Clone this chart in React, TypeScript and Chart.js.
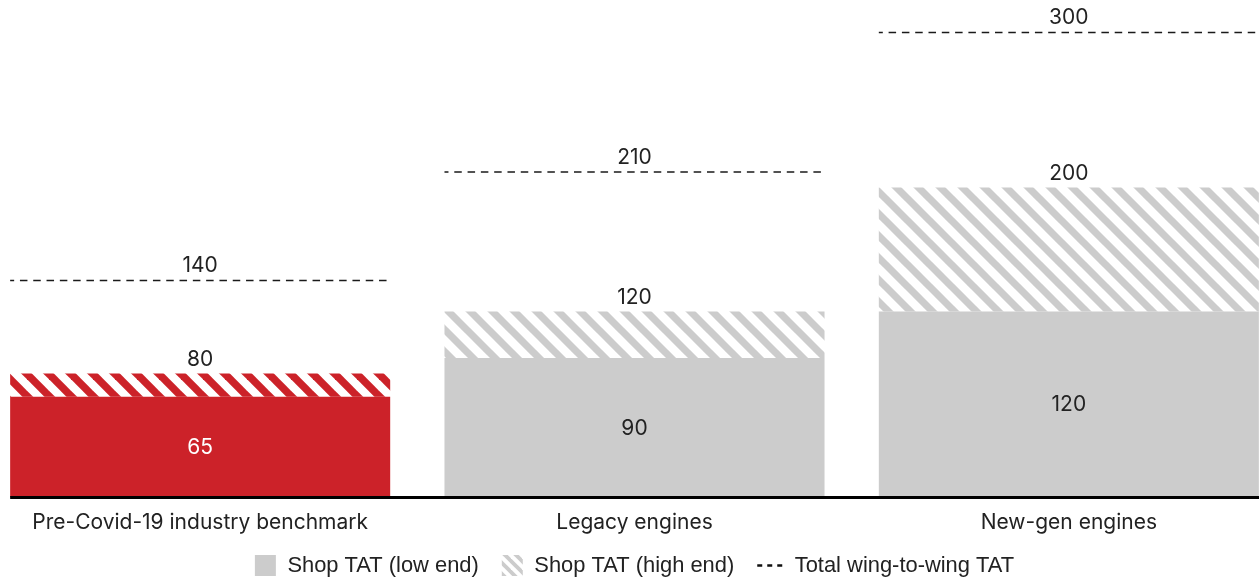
import React, { useEffect, useRef } from "react";
import { Chart, registerables } from "chart.js";

Chart.register(...registerables);

// ---- data ----
const categories = ["Pre-Covid-19 industry benchmark", "Legacy engines", "New-gen engines"];
const shopLowEnd = [65, 90, 120];
const shopHighEnd = [80, 120, 200];
const totalWingToWing = [140, 210, 300];
const legendLabels = ["Shop TAT (low end)", "Shop TAT (high end)", "Total wing-to-wing TAT"];

// ---- styles ----
const RED = "#cc2229";
const GRAY = "#cccccc";
const TEXT = "#222222";
const FONT_FAMILY = "Inter, 'Noto Sans', sans-serif";
const FONT_SIZE = 21;
const FONT = `${FONT_SIZE}px ${FONT_FAMILY}`;
const LEGEND_FONT = "21.9px 'Liberation Sans', Arial, sans-serif";

function makeHatch(color: string, period: number, width: number): CanvasPattern {
  const c = document.createElement("canvas");
  c.width = period;
  c.height = period;
  const g = c.getContext("2d")!;
  g.strokeStyle = color;
  g.lineWidth = width;
  for (const off of [-period, 0, period]) {
    g.beginPath();
    g.moveTo(off - period, -period);
    g.lineTo(off + 2 * period, 2 * period);
    g.stroke();
  }
  return g.createPattern(c, "repeat")!;
}

const overlayPlugin = {
  id: "overlay",
  afterDatasetsDraw(chart: any) {
    const { ctx, chartArea } = chart;
    const yScale = chart.scales.y;
    const meta = chart.getDatasetMeta(0);
    const zeroY = yScale.getPixelForValue(0);
    ctx.save();

    // baseline axis
    const first = meta.data[0];
    ctx.strokeStyle = "#000000";
    ctx.lineWidth = 3;
    ctx.beginPath();
    ctx.moveTo(first.x - first.width / 2, zeroY);
    ctx.lineTo(chartArea.right, zeroY);
    ctx.stroke();

    ctx.font = FONT;
    ctx.textAlign = "center";
    ctx.textBaseline = "alphabetic";

    meta.data.forEach((bar: any, i: number) => {
      const left = bar.x - bar.width / 2;
      const right = bar.x + bar.width / 2;

      // dashed total line
      const ty = yScale.getPixelForValue(totalWingToWing[i]);
      ctx.strokeStyle = "#1a1a1a";
      ctx.lineWidth = 1.6;
      ctx.setLineDash([7.5, 5.8]);
      ctx.lineDashOffset = 3.5;
      ctx.beginPath();
      ctx.moveTo(left, ty);
      ctx.lineTo(right, ty);
      ctx.stroke();
      ctx.setLineDash([]);

      ctx.fillStyle = TEXT;
      ctx.fillText(String(totalWingToWing[i]), bar.x, ty - 8.5);

      // high-end label
      const hy = yScale.getPixelForValue(shopHighEnd[i]);
      ctx.fillText(String(shopHighEnd[i]), bar.x, hy - 7.5);

      // low-end label (inside)
      const ly = yScale.getPixelForValue(shopLowEnd[i]);
      ctx.fillStyle = i === 0 ? "#ffffff" : TEXT;
      ctx.fillText(String(shopLowEnd[i]), bar.x, (ly + zeroY) / 2 + 6.8);
    });
    ctx.restore();
  },
  afterDraw(chart: any) {
    const { ctx, chartArea } = chart;
    ctx.save();
    ctx.font = LEGEND_FONT;
    ctx.textBaseline = "alphabetic";
    ctx.textAlign = "left";
    const iconW = [21, 21, 26];
    const gapIconText = 11.5;
    const gapItems = 23;
    const textW = legendLabels.map((l) => ctx.measureText(l).width);
    let total = 0;
    for (let i = 0; i < 3; i++) total += iconW[i] + gapIconText + textW[i];
    total += gapItems * 2;
    let x = (chartArea.left + chartArea.right) / 2 - total / 2;
    const boxTop = 555;
    const boxH = 21;
    const baseline = 571.5;
    const legendHatch = makeHatch(GRAY, 11, 3.8);
    for (let i = 0; i < 3; i++) {
      if (i === 0) {
        ctx.fillStyle = GRAY;
        ctx.fillRect(x, boxTop, iconW[i], boxH);
      } else if (i === 1) {
        ctx.fillStyle = legendHatch;
        ctx.fillRect(x, boxTop, iconW[i], boxH);
      } else {
        ctx.strokeStyle = "#111111";
        ctx.lineWidth = 2.5;
        ctx.setLineDash([5, 5]);
        ctx.beginPath();
        ctx.moveTo(x, boxTop + boxH / 2);
        ctx.lineTo(x + iconW[i], boxTop + boxH / 2);
        ctx.stroke();
        ctx.setLineDash([]);
      }
      x += iconW[i] + gapIconText;
      ctx.fillStyle = TEXT;
      ctx.fillText(legendLabels[i], x, baseline);
      x += textW[i] + gapItems;
    }
    ctx.restore();
  },
};

export default function App() {
  const ref = useRef<HTMLCanvasElement | null>(null);

  useEffect(() => {
    const canvas = ref.current;
    if (!canvas) return;
    document.documentElement.style.overflow = "hidden";
    document.body.style.overflow = "hidden";
    document.body.style.margin = "0";
    const redHatch = makeHatch(RED, 22, 7.6);
    const grayHatch = makeHatch(GRAY, 22, 7.2);

    const chart = new Chart(canvas, {
      type: "bar",
      data: {
        labels: categories,
        datasets: [
          {
            label: legendLabels[0],
            data: shopLowEnd,
            backgroundColor: [RED, GRAY, GRAY],
            borderWidth: 0,
            barPercentage: 0.875,
            categoryPercentage: 1,
            grouped: false,
          } as any,
          {
            label: legendLabels[1],
            data: shopLowEnd.map((v, i) => [v, shopHighEnd[i]]),
            backgroundColor: [redHatch, grayHatch, grayHatch],
            borderWidth: 0,
            barPercentage: 0.875,
            categoryPercentage: 1,
            grouped: false,
          } as any,
        ],
      },
      options: {
        animation: false,
        responsive: false,
        events: [],
        layout: { padding: 0 },
        plugins: {
          legend: { display: false },
          tooltip: { enabled: false },
        },
        scales: {
          x: {
            grid: { display: false, drawTicks: false },
            border: { display: false },
            ticks: {
              font: { family: FONT_FAMILY, size: FONT_SIZE },
              color: TEXT,
              padding: 13,
              maxRotation: 0,
              autoSkip: false,
            },
            afterFit: (scale: any) => {
              scale.height = 81.5;
            },
          },
          y: { display: false, min: 0, max: 321 },
        },
      },
      plugins: [overlayPlugin],
    } as any);
    return () => chart.destroy();
  }, []);

  return (
    <div
      style={{
        position: "fixed",
        left: 0,
        top: 0,
        width: 1259,
        height: 579,
        overflow: "hidden",
        background: "#ffffff",
      }}
    >
      <canvas
        ref={ref}
        width={1303}
        height={579}
        style={{ position: "absolute", left: -17, top: 0, width: 1303, height: 579 }}
      />
    </div>
  );
}
